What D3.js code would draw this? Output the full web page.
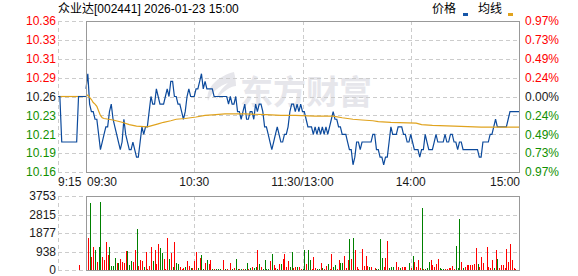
<!DOCTYPE html>
<html><head><meta charset="utf-8">
<script src="https://cdn.jsdelivr.net/npm/d3@7"></script>
<style>
body{margin:0;background:#fff}
svg{display:block}
text{font-family:Arial,"Liberation Sans","Noto Sans CJK SC",sans-serif;font-size:12px}
</style>
</head><body><svg id="c" width="578" height="276"></svg>
<script>
// ---------- data ----------
const titleText = "众业达[002441] 2026-01-23 15:00";
const legendNames = ["价格", "均线"];
const prevClose = 10.26;
const pctRange = 0.0097;
const priceTicks = ["10.36","10.33","10.31","10.29","10.26","10.23","10.21","10.19","10.16"];
const pctTicks = ["0.97%","0.73%","0.49%","0.24%","0.00%","0.24%","0.49%","0.73%","0.97%"];
const volMax = 3753;
const volTicks = ["3753","2815","1877","938","0"];
const timeLabels = ["9:15","09:30","10:30","11:30/13:00","14:00","15:00"];
const timeLabelMinutes = [null, 0, 60, 120, 180, 240];

// pre-market auction 9:15..9:30 (per minute)
const prePrice = [10.26,10.26,10.20,10.20,10.20,10.20,10.20,10.20,10.20,10.20,10.20,10.26,10.26,10.26,10.26,10.26];
const preAvg   = [10.26,10.26,10.26,10.26,10.26,10.26,10.26,10.26,10.26,10.26,10.26,10.26,10.26,10.26,10.26,10.26];
const preVolume = [0,0,0,0,0,0,0,0,0,0,0,250,0,0,0,0];

// trading minutes 0..240 (09:30..11:30 / 13:00..15:00)
const price = [
 10.27,10.29,10.25,10.24,10.24,10.23,10.23,10.21,10.19,10.20,
 10.21,10.22,10.22,10.24,10.25,10.23,10.22,10.21,10.20,10.19,
 10.20,10.23,10.21,10.20,10.19,10.19,10.20,10.19,10.18,10.18,
 10.20,10.22,10.21,10.22,10.22,10.24,10.26,10.25,10.25,10.27,
 10.26,10.25,10.25,10.25,10.26,10.27,10.26,10.28,10.28,10.26,
 10.26,10.25,10.25,10.24,10.23,10.24,10.26,10.27,10.26,10.26,
 10.26,10.27,10.27,10.28,10.29,10.27,10.28,10.27,10.27,10.27,
 10.27,10.26,10.26,10.26,10.26,10.26,10.26,10.26,10.26,10.25,
 10.26,10.25,10.25,10.26,10.24,10.24,10.23,10.24,10.25,10.23,
 10.23,10.24,10.24,10.23,10.25,10.24,10.25,10.25,10.24,10.22,
 10.22,10.21,10.20,10.19,10.20,10.21,10.22,10.21,10.20,10.20,
 10.21,10.21,10.22,10.24,10.25,10.25,10.24,10.25,10.24,10.25,
 10.24,10.24,10.23,10.22,10.22,10.22,10.21,10.22,10.21,10.22,
 10.21,10.22,10.21,10.22,10.21,10.22,10.23,10.24,10.23,10.23,
 10.22,10.22,10.21,10.21,10.21,10.20,10.19,10.19,10.17,10.18,
 10.20,10.20,10.19,10.20,10.20,10.20,10.20,10.20,10.20,10.21,
 10.21,10.19,10.19,10.18,10.18,10.17,10.18,10.18,10.20,10.22,
 10.21,10.21,10.21,10.22,10.22,10.22,10.21,10.21,10.20,10.20,
 10.21,10.20,10.19,10.19,10.19,10.18,10.19,10.19,10.21,10.20,
 10.19,10.19,10.19,10.20,10.21,10.20,10.20,10.20,10.20,10.21,
 10.20,10.20,10.21,10.21,10.20,10.20,10.19,10.20,10.20,10.19,
 10.19,10.19,10.19,10.19,10.19,10.19,10.19,10.19,10.18,10.18,
 10.20,10.20,10.20,10.20,10.21,10.21,10.22,10.23,10.22,10.22,
 10.22,10.22,10.22,10.22,10.23,10.24,10.24,10.24,10.24,10.24,10.24
];

// average price line, read at key minutes
const avgMinutes = [0,1,2,3,4,5,6,7,8,9,10,15,20,24,28,34,37,40,43,47,50,55,61,66,72,77,88,100,108,116,127,137,142,148,153,159,162,169,183,186,192,204,219,240];
const avgPrice   = [10.26,10.262,10.259,10.256,10.252,10.250,10.247,10.241,10.235,10.232,10.231,10.229,10.226,10.223,10.221,10.220,10.222,10.224,10.226,10.228,10.230,10.231,10.233,10.235,10.236,10.237,10.237,10.236,10.235,10.235,10.234,10.234,10.232,10.230,10.229,10.228,10.227,10.226,10.225,10.223,10.222,10.221,10.2195,10.2195];

const volume = [
 0,1600,3410,675,1180,1010,420,1180,3460,675,
 505,1435,760,1150,200,200,590,340,340,540,
 420,340,980,960,240,455,405,1010,2080,200,
 505,455,135,910,50,200,1165,455,1010,305,
 1300,1115,860,560,50,1620,560,860,135,1420,
 355,305,150,30,85,135,455,200,100,85,
 455,895,120,600,760,60,370,505,290,505,
 70,70,50,50,50,0,505,50,50,0,
 355,50,100,560,70,50,70,50,50,355,
 70,85,150,100,170,1010,305,170,70,505,
 70,50,455,810,250,85,50,305,305,560,
 810,170,455,170,910,120,150,135,150,50,
 50,1010,305,1010,505,70,660,120,70,50,
 370,120,70,200,305,70,810,135,240,70,
 490,370,370,710,100,505,1570,560,1620,1010,
 135,35,0,1065,200,710,200,135,135,0,
 100,35,35,1570,610,135,610,1470,85,135,
 170,0,420,135,85,135,135,135,0,370,
 85,710,420,135,505,85,3145,35,35,85,
 405,505,255,170,305,560,85,35,35,35,
 35,85,85,200,35,1215,85,2585,420,85,
 170,255,255,255,255,305,1115,305,135,660,
 355,0,1165,150,85,505,85,1010,560,85,
 255,255,85,1065,420,1320,505,85,50,0,1165
];
// 1 = up (red), 0 = down (green)
const volumeUp = [
 1,1,0,1,1,0,1,0,0,1,
 1,1,1,0,0,0,0,1,0,1,
 1,1,1,0,0,0,1,1,0,1,
 1,1,0,1,1,1,1,0,1,1,
 1,0,0,1,1,1,0,1,0,1,
 0,0,1,1,1,0,1,1,0,1,
 1,1,0,1,0,0,1,0,1,1,
 0,1,0,0,0,1,1,0,1,1,
 1,0,1,0,0,1,0,1,0,0,
 1,0,1,0,0,1,0,1,0,0,
 0,0,1,0,1,1,0,1,0,1,
 1,1,1,0,0,1,1,0,1,1,
 0,0,1,0,0,1,1,1,0,0,
 1,0,1,1,0,1,1,0,0,1,
 1,0,0,1,1,1,0,1,0,1,
 1,1,1,1,1,1,1,0,1,1,
 1,0,0,0,0,1,1,1,0,0,
 0,1,1,1,0,1,1,1,1,0,
 1,0,1,1,1,1,0,1,0,0,
 0,1,1,1,1,1,0,0,0,1,
 1,1,1,1,1,0,0,0,1,0,
 1,1,1,1,1,1,1,0,1,1,
 1,1,1,1,1,1,0,1,0,1,
 1,1,1,1,1,1,1,1,1,1,1
];

// ---------- drawing ----------
const svg = d3.select("#c");
const L = 86, R = 519, PT = 21, PB = 172, VT = 196, VB = 270, PRE = 58;
const RED = "#ff0000", GREEN = "#008000", DARK = "#1a1a1a", LGREEN = "#119000";
const lo = prevClose * (1 - pctRange), hi = prevClose * (1 + pctRange);

const x = d3.scaleLinear().domain([0, 240]).range([L, R]);
const xPre = d3.scaleLinear().domain([0, 15]).range([PRE, L]);
const y = d3.scaleLinear().domain([lo, hi]).range([PB, PT]);
const yv = d3.scaleLinear().domain([0, volMax]).range([VB, VT]);
const px = v => Math.round(v) + 0.5;

// watermark
const wm = svg.append("g").attr("fill", "#e6e6eb");
wm.append("path").attr("d", "M234,72 C218,76 205,88 208,101 C212,92 219,86 228,83 C222,88 217,94 216,100 C224,90 232,86 236,86 C236,81 235,76 234,72 Z");
wm.append("text").attr("x", 240).attr("y", 104)
  .style("font-family", "'Noto Sans CJK SC',sans-serif").style("font-size", "33px").style("font-weight", "bold")
  .text("东方财富");

// grid
const gridVals = d3.range(9).map(i => hi - i * (hi - lo) / 8);
const grid = svg.append("g").attr("stroke", "#cccccc").attr("stroke-dasharray", "4,3").attr("stroke-width", 1);
gridVals.forEach(v => grid.append("line").attr("x1", PRE).attr("x2", R).attr("y1", px(y(v))).attr("y2", px(y(v))));
const volGridVals = d3.range(5).map(i => volMax - i * volMax / 4);
volGridVals.forEach(v => grid.append("line").attr("x1", PRE).attr("x2", R).attr("y1", px(yv(v))).attr("y2", px(yv(v))));
[60, 120, 180].forEach(m => {
  grid.append("line").attr("x1", px(x(m))).attr("x2", px(x(m))).attr("y1", PT).attr("y2", PB);
  grid.append("line").attr("x1", px(x(m))).attr("x2", px(x(m))).attr("y1", VT).attr("y2", VB);
});
grid.append("line").attr("x1", px(PRE)).attr("x2", px(PRE)).attr("y1", PT).attr("y2", PB);
grid.append("line").attr("x1", px(PRE)).attr("x2", px(PRE)).attr("y1", VT).attr("y2", VB);

// volume bars
const bars = svg.append("g").attr("shape-rendering", "crispEdges");
bars.selectAll("rect.v").data(volume).join("rect")
  .attr("x", (d, i) => Math.round(x(i)))
  .attr("width", 1)
  .attr("y", d => yv(d))
  .attr("height", d => VB - yv(d))
  .attr("fill", (d, i) => volumeUp[i] ? RED : GREEN);
bars.selectAll("rect.p").data(preVolume).join("rect")
  .attr("x", (d, i) => Math.round(xPre(i)))
  .attr("width", 1)
  .attr("y", d => yv(d))
  .attr("height", d => VB - yv(d))
  .attr("fill", RED);

// lines
const linePre = d3.line().x((d, i) => xPre(i)).y(d => y(d));
const lineMain = d3.line().x((d, i) => x(i)).y(d => y(d));
svg.append("path").attr("d", linePre(preAvg)).attr("fill", "none").attr("stroke", "#e0a31e").attr("stroke-width", 1.2);
svg.append("path").attr("d", linePre(prePrice)).attr("fill", "none").attr("stroke", "#0c4a9c").attr("stroke-width", 1.2);
svg.append("path").attr("d", lineMain(price)).attr("fill", "none").attr("stroke", "#0c4a9c").attr("stroke-width", 1.2);
const avgLine = d3.line().x(d => x(d[0])).y(d => y(d[1]));
svg.append("path").attr("d", avgLine(avgMinutes.map((m, i) => [m, avgPrice[i]])))
  .attr("fill", "none").attr("stroke", "#e0a31e").attr("stroke-width", 1.2);

// frames
const fr = svg.append("g").attr("fill", "none").attr("stroke", "#999999").attr("stroke-width", 1);
fr.append("rect").attr("x", L + 0.5).attr("y", PT + 0.5).attr("width", R - L).attr("height", PB - PT);
fr.append("rect").attr("x", L + 0.5).attr("y", VT + 0.5).attr("width", R - L).attr("height", VB - VT);

// left price axis
const axL = svg.append("g").attr("transform", `translate(${L - 29},0)`)
  .call(d3.axisLeft(y).tickValues(gridVals).tickSize(0).tickPadding(1).tickFormat((d, i) => priceTicks[i]));
axL.select(".domain").remove();
axL.selectAll("text").style("font-size", "12px").style("font-family", "Arial,'Liberation Sans',sans-serif")
  .attr("fill", (d, i) => i < 4 ? RED : (i === 4 ? DARK : LGREEN));

// right pct axis
const axR = svg.append("g").attr("transform", `translate(${R + 5},0)`)
  .call(d3.axisRight(y).tickValues(gridVals).tickSize(0).tickPadding(1).tickFormat((d, i) => pctTicks[i]));
axR.select(".domain").remove();
axR.selectAll("text").style("font-size", "12px").style("font-family", "Arial,'Liberation Sans',sans-serif")
  .attr("fill", (d, i) => i < 4 ? RED : (i === 4 ? DARK : LGREEN));

// volume axis
const axV = svg.append("g").attr("transform", `translate(${L - 29},0)`)
  .call(d3.axisLeft(yv).tickValues(volGridVals).tickSize(0).tickPadding(1).tickFormat((d, i) => volTicks[i]));
axV.select(".domain").remove();
axV.selectAll("text").style("font-size", "12px").style("font-family", "Arial,'Liberation Sans',sans-serif").attr("fill", DARK);

// time labels
const tl = svg.append("g").attr("fill", DARK);
timeLabels.forEach((t, i) => {
  const m = timeLabelMinutes[i];
  let xx, anchor;
  if (m === null) { xx = xPre(0); anchor = "start"; }
  else if (m === 0) { xx = x(0) + 1; anchor = "start"; }
  else if (m === 240) { xx = x(240) + 1; anchor = "end"; }
  else { xx = x(m); anchor = "middle"; }
  tl.append("text").attr("x", xx).attr("y", 186).attr("text-anchor", anchor).text(t);
});

// title & legend
svg.append("text").attr("x", 58).attr("y", 13).attr("fill", "#000").text(titleText);
svg.append("text").attr("x", 432).attr("y", 13).attr("fill", "#000").text(legendNames[0]);
svg.append("rect").attr("x", 463).attr("y", 13).attr("width", 5).attr("height", 3).attr("fill", "#1656a8");
svg.append("text").attr("x", 478).attr("y", 13).attr("fill", "#000").text(legendNames[1]);
svg.append("rect").attr("x", 508).attr("y", 13).attr("width", 5).attr("height", 3).attr("fill", "#e0a31e");
</script></body></html>
